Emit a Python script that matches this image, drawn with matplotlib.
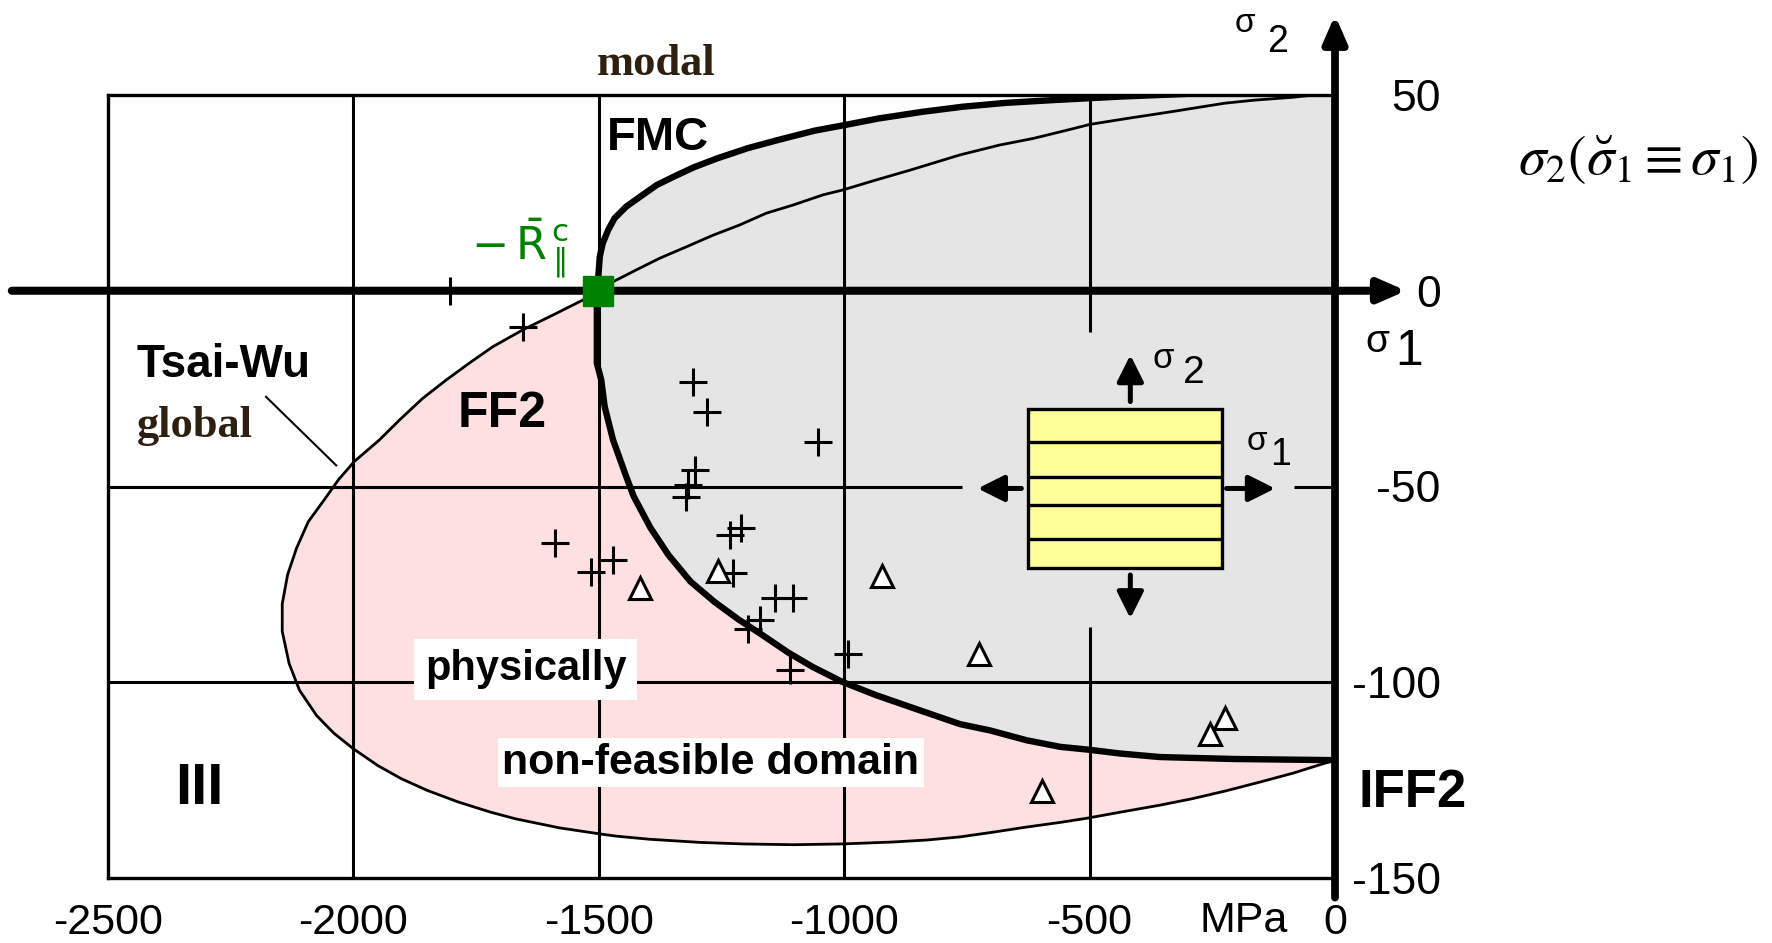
import matplotlib
matplotlib.use('Agg')
import matplotlib.pyplot as plt
from matplotlib.patches import Rectangle

plt.rcParams['axes.unicode_minus'] = False

NARROW = ['Liberation Sans Narrow', 'Liberation Sans', 'DejaVu Sans']
SANS = ['Liberation Sans', 'DejaVu Sans']
SERIF = ['Liberation Serif', 'DejaVu Serif']

# FMC fracture curve (thick), upper branch then lower branch  [MPa]
fmc_upper_s1 = [-300, -437, -574, -670, -759, -841, -930, -1000, -1060, -1135, -1197,
                -1259, -1307, -1348, -1382, -1416, -1444, -1468, -1481, -1492, -1498,
                -1501, -1502]
fmc_upper_s2 = [50.3, 49.6, 48.7, 48.0, 47.0, 45.7, 44.0, 42.3, 40.9, 38.5, 36.4,
                33.8, 31.5, 29.1, 27.0, 24.0, 21.5, 18.5, 15.5, 12.1, 8.7, 3.6, 0.0]
fmc_lower_s1 = [-1504, -1504, -1495, -1488, -1471, -1444, -1429, -1395, -1358, -1313,
                -1264, -1215, -1172, -1113, -1064, -1004, -935, -866, -764, -703, -629,
                -560, -504, -438, -357, -207, 0]
fmc_lower_s2 = [-4.1, -18.5, -22.8, -29.6, -38.1, -47.5, -52.5, -60.5, -67.5, -74.3,
                -79.5, -84.0, -87.5, -92.5, -96.1, -99.9, -103.3, -106.3, -110.7, -112.3,
                -114.8, -116.5, -117.2, -118.2, -119.1, -119.6, -119.9]

# Tsai-Wu global curve (thin)
tw_upper_s1 = [-20, -88, -163, -225, -335, -424, -499, -540, -615, -684, -764, -866,
               -935, -1004, -1043, -1104, -1159, -1213, -1267, -1322, -1376, -1424, -1471]
tw_upper_s2 = [50.3, 49.4, 48.7, 47.9, 45.7, 44.0, 42.5, 41.2, 38.9, 37.2, 34.7, 30.8,
               28.3, 25.7, 24.5, 21.9, 19.8, 16.8, 14.2, 11.2, 8.3, 5.3, 2.3]
tw_lower_s1 = [-1500, -1533, -1587, -1655, -1716, -1764, -1811, -1859, -1906, -1947,
               -1998, -2030, -2060, -2092, -2116, -2134, -2145, -2145, -2131, -2110,
               -2075, -2040, -2000, -1950, -1903, -1850, -1786, -1720, -1669, -1580,
               -1500, -1465, -1397, -1295, -1206, -1104, -1004, -900, -832, -764, -697,
               -629, -560, -504, -438, -357, -289, -221, -153, -85, -24, 0]
tw_lower_s2 = [0.0, -2.4, -5.8, -10.0, -14.3, -18.5, -22.8, -27.5, -33.0, -38.1,
               -43.6, -48.2, -53.5, -59.0, -65.8, -72.5, -80.0, -87.0, -95.2, -102.0,
               -108.5, -113.0, -117.0, -121.3, -124.6, -127.6, -130.6, -133.2, -134.9,
               -137.2, -138.7, -139.3, -140.1, -140.9, -141.3, -141.5, -141.3, -140.8,
               -140.3, -139.5, -138.3, -137.0, -135.8, -134.7, -133.2, -131.4, -129.7,
               -127.7, -125.5, -123.2, -120.8, -119.9]

# test data
cross_s1 = [-1804, -1655, -1308, -1279, -1053, -1303, -1318, -1323, -1590, -1515, -1471,
            -1233, -1210, -1227, -1142, -1104, -1172, -1196, -1111, -992]
cross_s2 = [0.0, -9.2, -23.2, -30.9, -38.6, -45.8, -49.5, -52.6, -64.5, -71.9, -68.9,
            -62.4, -60.5, -72.0, -78.6, -78.6, -84.1, -86.5, -96.9, -92.8]
tri_s1 = [-1417, -1257, -922, -725, -224, -255, -598]
tri_s2 = [-76.0, -71.7, -72.9, -92.8, -109.2, -113.3, -127.8]

# compressive strength point -R||c
rc_s1 = [-1502]
rc_s2 = [0.0]

x_ticks = [-2500, -2000, -1500, -1000, -500, 0]
x_labels = ['-2500', '-2000', '-1500', '-1000', '-500', '0']
y_ticks = [50, 0, -50, -100, -150]
y_labels = ['50', '0', '-50', '-100', '-150']

fig = plt.figure(figsize=(17.72, 9.43), dpi=100)
ax = fig.add_axes([108 / 1772, 65 / 943, 1227 / 1772, 783 / 943])
ax.set_xlim(-2500, 0)
ax.set_ylim(-150, 50)

for s in ['top', 'left', 'bottom']:
    ax.spines[s].set_linewidth(2.4)
ax.spines['right'].set_visible(False)

ax.set_xticks(x_ticks)
ax.set_xticklabels(x_labels, family=NARROW, fontsize=31)
ax.tick_params(axis='x', length=0, pad=18)
ax.yaxis.tick_right()
ax.set_yticks(y_ticks)
ax.set_yticklabels(y_labels, family=NARROW, fontsize=32)
ax.tick_params(axis='y', length=0, pad=76)
for t in ax.get_yticklabels():
    t.set_horizontalalignment('right')

# filled domains
ax.fill(fmc_upper_s1 + fmc_lower_s1 + [0], fmc_upper_s2 + fmc_lower_s2 + [50.3],
        color='#e5e5e5', lw=0, zorder=1)
ax.fill(tw_lower_s1 + fmc_lower_s1[::-1], tw_lower_s2 + fmc_lower_s2[::-1],
        color='#ffe0e1', lw=0, zorder=1)

# grid (some pieces interrupted around the sketch)
ax.vlines([-2000, -1500, -1000], -150, 50, color='k', lw=2.2, zorder=2)
ax.vlines(-500, -10.5, 50, color='k', lw=2.2, zorder=2)
ax.vlines(-500, -150, -85.8, color='k', lw=2.2, zorder=2)
ax.hlines(-100, -2500, 0, color='k', lw=2.2, zorder=2)
ax.hlines(-50, -2500, -760, color='k', lw=2.2, zorder=2)
ax.hlines(-50, -83, 0, color='k', lw=2.2, zorder=2)

# curves
ax.plot(tw_upper_s1 + tw_lower_s1, tw_upper_s2 + tw_lower_s2, color='k', lw=2.0, zorder=3)
ax.plot(fmc_upper_s1 + fmc_lower_s1, fmc_upper_s2 + fmc_lower_s2, color='k', lw=4.6,
        zorder=4)
ax.plot([-2178, -2035], [-27.1, -44.6], color='k', lw=1.5, zorder=3)

ax.plot(cross_s1, cross_s2, ls='none', marker='+', ms=20, mew=2.2, color='k', zorder=6)
ax.plot(tri_s1, tri_s2, ls='none', marker='^', ms=16, mfc='white', mec='k', mew=2.2,
        zorder=6)


def arrow(tail, tip, lw, hl=0.8, hw=0.4, z=7):
    ax.annotate('', xy=tip, xytext=tail, annotation_clip=False, zorder=z,
                arrowprops=dict(arrowstyle='-|>,head_length=%s,head_width=%s' % (hl, hw),
                                lw=lw, color='k', shrinkA=0, shrinkB=0,
                                mutation_scale=20))


# coordinate axes
arrow((-2696, 0), (145, 0), 5.8, 0.8, 0.35)
arrow((0, -155), (0, 70.4), 5.6, 0.8, 0.35)

ax.plot(rc_s1, rc_s2, ls='none', marker='s', ms=21, color='#008000', zorder=9,
        clip_on=False)

# lamina sketch
ax.add_patch(Rectangle((-625, -70.9), 394, 40.8, facecolor='#ffff99', edgecolor='k',
                       lw=2.4, zorder=7))
ax.hlines([-38.6, -47.5, -54.8, -63.4], -625, -231, color='k', lw=2.4, zorder=7)
arrow((-417, -28.3), (-417, -16.4), 3.6)
arrow((-417, -72.6), (-417, -83.7), 3.6)
arrow((-639, -50.5), (-728, -50.5), 3.6)
arrow((-221, -50.5), (-122, -50.5), 3.6)


def sigma(x, y, fs, x2, y2, sub, fs2):
    ax.text(x, y, 'σ', family=NARROW, fontsize=fs, va='baseline', ha='left',
            zorder=10, clip_on=False)
    ax.text(x2, y2, sub, family=NARROW, fontsize=fs2, va='baseline', ha='left',
            zorder=10, clip_on=False)


sigma(62, -15.7, 28, 123, -19.0, '1', 36)
sigma(-204, 66.1, 24, -138, 61.0, '2', 27)
sigma(-371, -19.7, 25, -310, -23.6, '2', 28)
sigma(-181, -40.7, 24, -132, -44.5, '1', 27)

# labels
txt = dict(zorder=10, clip_on=False)
ax.text(-1383, 55.0, 'modal', family=SERIF, weight='bold', fontsize=32, color='#2e2010',
        ha='center', va='baseline', **txt)
ax.text(-2441, -37.4, 'global', family=SERIF, weight='bold', fontsize=32, color='#2e2010',
        ha='left', va='baseline', **txt)
ax.text(-1380, 35.9, 'FMC', family=SANS, weight='bold', fontsize=34, ha='center',
        va='baseline', **txt)
ax.text(-2441, -22.0, 'Tsai-Wu', family=SANS, weight='bold', fontsize=33, ha='left',
        va='baseline', **txt)
ax.text(-1788, -34.8, 'FF2', family=SANS, weight='bold', fontsize=36, ha='left',
        va='baseline', **txt)
ax.text(-2314, -131.0, 'III', family=SANS, weight='bold', fontsize=42, ha='center',
        va='baseline', **txt)
ax.text(47, -131.9, 'IFF2', family=SANS, weight='bold', fontsize=38, ha='left',
        va='baseline', **txt)
ax.text(-1649, -96.7, 'physically', family=SANS, weight='bold', fontsize=30, ha='center',
        va='center', bbox=dict(boxstyle='square,pad=0.25', fc='white', ec='none'), **txt)
ax.text(-1272, -120.5, 'non-feasible domain', family=SANS, weight='bold', fontsize=31,
        ha='center', va='center', bbox=dict(boxstyle='square,pad=0.1', fc='white', ec='none'),
        **txt)
ax.text(-1760, 7.8, r'$-\,\bar{\mathrm{R}}_{\parallel}^{\,\mathrm{c}}$', fontsize=32,
        color='#008000', ha='left', va='baseline', **txt)
ax.text(-187, -163.8, 'MPa', family=NARROW, fontsize=31, ha='center', va='baseline', **txt)
ax.text(618, 33.4, r'$\sigma_2(\breve{\sigma}_1 \equiv \sigma_1)$', math_fontfamily='stix',
        fontsize=40, ha='center', va='center', **txt)

fig.savefig('out.png', dpi=100)
